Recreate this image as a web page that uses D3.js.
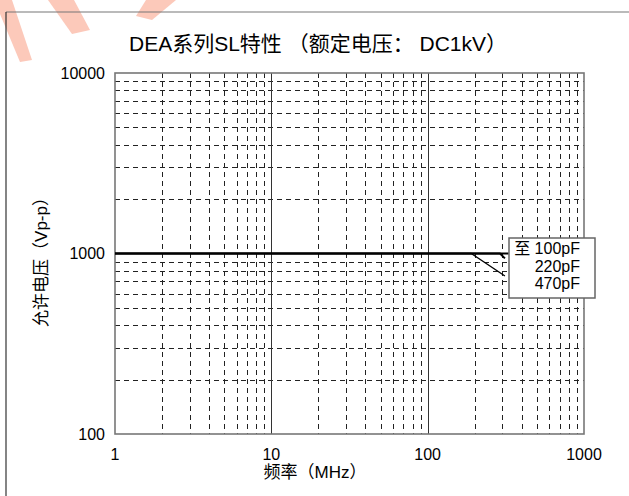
<!DOCTYPE html>
<html><head><meta charset="utf-8">
<script src="https://cdn.jsdelivr.net/npm/d3@7"></script>
<style>
html,body{margin:0;padding:0;background:#fff;}
text{font-family:"Liberation Sans",Arial,"Noto Sans CJK SC",sans-serif;fill:#000;}
</style></head>
<body>
<svg id="c" width="629" height="496"></svg>
<script>
// ---- data ----
const title = "DEA系列SL特性 （额定电压： DC1kV）";
const xLabel = "频率（MHz）";
const yLabel = "允许电压（Vp-p）";
const xTicks = [1, 10, 100, 1000];
const yTicks = [100, 1000, 10000];
const xMinor = [2,3,4,5,6,7,8,9,20,30,40,50,60,70,80,90,200,300,400,500,600,700,800,900];
const yMinor = [200,300,400,500,600,700,800,900,2000,3000,4000,5000,6000,7000,8000,9000];
const legendLabels = ["至 100pF", "220pF", "470pF"];
const freq100 = [1, 290, 312];
const volt100 = [1000, 1000, 940];
const freq220 = [1, 330];
const volt220 = [1000, 1000];
const freq470 = [1, 190, 312];
const volt470 = [1000, 1000, 750];

const svg = d3.select("#c");
const L = 115, R = 584, T = 73, B = 434;
const x = d3.scaleLog().domain([1, 1000]).range([L, R]);
const y = d3.scaleLog().domain([100, 10000]).range([B, T]);

// watermark
const wm = svg.append("g").attr("fill", "#fbb7a4").attr("opacity", 0.75);
[[[0,0],[12,0],[32,60],[20,62],[0,14]],
 [[48,0],[74,0],[90,30],[72,34]],
 [[146,0],[176,0],[152,20],[136,16]]].forEach(p => wm.append("polygon").attr("points", p.join(" ")));

// outer frame
svg.append("line").attr("x1", 6).attr("y1", 12).attr("x2", 629).attr("y2", 12).attr("stroke", "#777").attr("stroke-width", 1.2);
svg.append("line").attr("x1", 6).attr("y1", 12).attr("x2", 6).attr("y2", 496).attr("stroke", "#333").attr("stroke-width", 1.2);

// grid
const g = svg.append("g");
g.selectAll(".hm").data(yMinor).join("line")
  .attr("x1", L).attr("x2", R).attr("y1", d => Math.round(y(d)) + 0.5).attr("y2", d => Math.round(y(d)) + 0.5)
  .attr("stroke", "#222").attr("stroke-width", 1).attr("stroke-dasharray", "5,4");
g.selectAll(".vm").data(xMinor).join("line")
  .attr("y1", T).attr("y2", B).attr("x1", d => Math.round(x(d)) + 0.5).attr("x2", d => Math.round(x(d)) + 0.5)
  .attr("stroke", "#222").attr("stroke-width", 1).attr("stroke-dasharray", "5,4");
g.selectAll(".vM").data([10, 100]).join("line")
  .attr("y1", T).attr("y2", B).attr("x1", d => Math.round(x(d)) + 0.5).attr("x2", d => Math.round(x(d)) + 0.5)
  .attr("stroke", "#333").attr("stroke-width", 1);

// frame
svg.append("rect").attr("x", L).attr("y", T).attr("width", R - L).attr("height", B - T)
  .attr("fill", "none").attr("stroke", "#777").attr("stroke-width", 1.6);

// lines
const line = d3.line().x(d => x(d[0])).y(d => y(d[1]));
[[freq470, volt470, 1.3], [freq220, volt220, 2], [freq100, volt100, 2]].forEach(([f, v, w]) => {
  svg.append("path").datum(f.map((d, i) => [d, v[i]])).attr("d", line)
    .attr("fill", "none").attr("stroke", "#000").attr("stroke-width", w);
});

// axes labels
svg.append("g").selectAll("text").data(xTicks).join("text")
  .attr("x", d => x(d)).attr("y", 460).attr("text-anchor", "middle").attr("font-size", 16).text(d => d);
svg.append("g").selectAll("text").data(yTicks).join("text")
  .attr("x", 105).attr("y", d => y(d)).attr("dy", "0.35em").attr("text-anchor", "end").attr("font-size", 16).text(d => d);

svg.append("text").attr("x", 318).attr("y", 51).attr("text-anchor", "middle").attr("font-size", 21).text(title);
svg.append("text").attr("x", 315).attr("y", 478).attr("text-anchor", "middle").attr("font-size", 17).text(xLabel);
svg.append("text").attr("transform", "translate(47,258) rotate(-90)").attr("text-anchor", "middle").attr("font-size", 17).text(yLabel);

// legend box
const lg = svg.append("g");
lg.append("rect").attr("x", 509).attr("y", 238).attr("width", 86).attr("height", 60)
  .attr("fill", "#fff").attr("stroke", "#666").attr("stroke-width", 1.5);
lg.selectAll("text").data(legendLabels).join("text")
  .attr("x", 580).attr("y", (d, i) => 254 + i * 17.5).attr("text-anchor", "end").attr("font-size", 16).text(d => d);
</script>
</body></html>
